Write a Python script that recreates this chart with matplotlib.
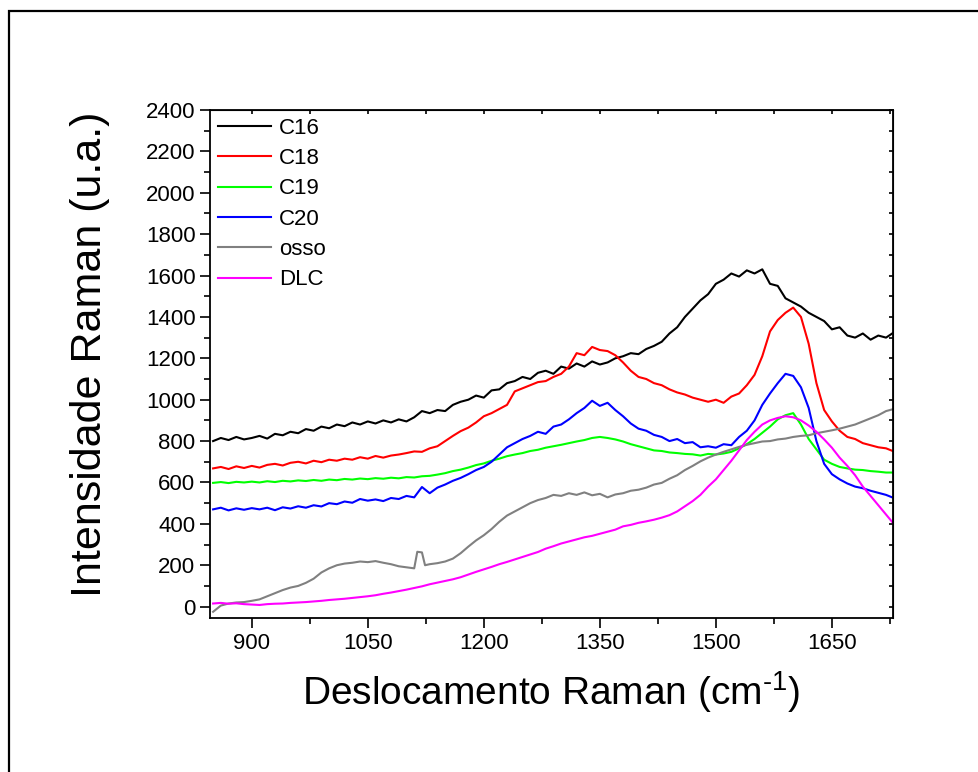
import numpy as np
import matplotlib
matplotlib.use('Agg')
from matplotlib import pyplot as plt
from matplotlib.patches import Rectangle
from matplotlib.ticker import MultipleLocator

plt.rcParams['font.family'] = ['Liberation Sans', 'DejaVu Sans']
plt.rcParams['mathtext.fontset'] = 'custom'
plt.rcParams['mathtext.rm'] = 'Liberation Sans'

# deslocamento Raman (cm-1), grade comum
x = list(range(850, 1731, 10))

c16 = [800, 815, 805, 820, 808, 815, 825, 812, 835, 828,
       845, 838, 858, 850, 870, 862, 880, 872, 890, 880,
       895, 885, 900, 890, 905, 895, 915, 945, 935, 950,
       945, 975, 990, 1000, 1020, 1010, 1045, 1050, 1080, 1090,
       1110, 1100, 1130, 1140, 1125, 1160, 1150, 1175, 1160, 1185,
       1170, 1180, 1200, 1210, 1225, 1220, 1245, 1260, 1280, 1320,
       1350, 1400, 1440, 1480, 1510, 1560, 1580, 1610, 1595, 1625,
       1610, 1630, 1560, 1550, 1490, 1470, 1450, 1420, 1400, 1380,
       1340, 1350, 1310, 1300, 1320, 1290, 1310, 1300, 1325]

c18 = [668, 675, 665, 678, 670, 680, 672, 685, 690, 682,
       695, 700, 692, 705, 698, 710, 705, 715, 710, 722,
       715, 728, 720, 730, 735, 742, 750, 748, 765, 775,
       800, 825, 848, 865, 890, 920, 935, 955, 975, 1040,
       1055, 1070, 1085, 1090, 1110, 1125, 1160, 1225, 1215, 1255,
       1240, 1235, 1215, 1180, 1140, 1110, 1100, 1080, 1070, 1050,
       1035, 1025, 1010, 1000, 990, 1000, 985, 1015, 1030, 1070,
       1120, 1210, 1330, 1385, 1420, 1445, 1400, 1270, 1080, 950,
       895, 850, 820, 810, 790, 780, 770, 765, 750]

c19 = [598, 602, 597, 603, 600, 604, 600, 606, 602, 608,
       605, 610, 607, 612, 608, 614, 611, 617, 614, 619,
       616, 621, 618, 623, 620, 626, 624, 630, 632, 638,
       645, 655, 662, 672, 684, 692, 705, 715, 727, 735,
       742, 752, 758, 768, 775, 782, 790, 798, 805, 815,
       820, 815, 808, 798, 785, 775, 765, 755, 752, 745,
       742, 738, 736, 730, 738, 735, 740, 748, 765, 785,
       810, 840, 870, 905, 925, 935, 880, 810, 760, 710,
       690, 675, 668, 662, 660, 655, 652, 648, 648]

c20 = [470, 478, 465, 475, 468, 476, 470, 478, 466, 480,
       474, 485, 478, 490, 484, 500, 495, 508, 502, 520,
       512, 518, 510, 525, 520, 535, 528, 578, 548, 575,
       590, 608, 622, 640, 660, 675, 700, 735, 770, 790,
       810, 825, 845, 835, 870, 880, 905, 935, 960, 995,
       970, 985, 950, 920, 885, 860, 850, 830, 820, 800,
       810, 790, 795, 770, 775, 768, 785, 780, 820, 850,
       900, 975, 1030, 1080, 1125, 1115, 1060, 960, 800, 690,
       640, 615, 595, 580, 572, 560, 550, 540, 525]

dlc = [15, 18, 14, 16, 12, 10, 8, 12, 14, 15,
       18, 20, 22, 25, 28, 32, 35, 38, 42, 46,
       50, 55, 62, 68, 75, 82, 90, 98, 108, 116,
       124, 132, 142, 155, 168, 180, 192, 205, 216, 228,
       240, 252, 264, 280, 292, 305, 315, 325, 335, 342,
       352, 362, 372, 388, 395, 405, 412, 420, 430, 442,
       460, 485, 510, 540, 580, 615, 660, 705, 755, 805,
       845, 880, 900, 912, 920, 915, 900, 875, 845, 808,
       768, 720, 680, 635, 580, 535, 490, 445, 400]

# osso tem um pico estreito perto de 1117
x_osso = [850, 860, 870, 880, 890, 900, 910, 920, 930, 940,
          950, 960, 970, 980, 990, 1000, 1010, 1020, 1030, 1040,
          1050, 1060, 1070, 1080, 1090, 1100, 1110, 1114, 1120, 1124,
          1130, 1140, 1150, 1160, 1170, 1180, 1190, 1200, 1210, 1220,
          1230, 1240, 1250, 1260, 1270, 1280, 1290, 1300, 1310, 1320,
          1330, 1340, 1350, 1360, 1370, 1380, 1390, 1400, 1410, 1420,
          1430, 1440, 1450, 1460, 1470, 1480, 1490, 1500, 1510, 1520,
          1530, 1540, 1550, 1560, 1570, 1580, 1590, 1600, 1610, 1620,
          1630, 1640, 1650, 1660, 1670, 1680, 1690, 1700, 1710, 1720, 1730]
osso = [-25, 5, 15, 20, 22, 28, 35, 50, 65, 80,
        92, 100, 115, 135, 165, 185, 200, 208, 212, 218,
        215, 220, 212, 205, 195, 190, 185, 265, 262, 200,
        205, 210, 218, 232, 258, 290, 320, 345, 375, 410,
        440, 460, 480, 500, 515, 525, 540, 535, 548, 540,
        552, 538, 545, 528, 542, 548, 560, 565, 575, 590,
        598, 618, 635, 660, 680, 702, 720, 735, 748, 760,
        772, 782, 790, 798, 800, 808, 812, 820, 825, 828,
        838, 845, 852, 860, 870, 880, 895, 910, 925, 945, 955]

fig = plt.figure(figsize=(9.79, 7.72), dpi=100)
ax = fig.add_axes([210/979, 1-618/772, (893-210)/979, (618-110)/772])

ax.plot(x, c16, color='black', lw=1.5, label='C16')
ax.plot(x, c18, color='#FF0000', lw=1.5, label='C18')
ax.plot(x, c19, color='#00FF00', lw=1.5, label='C19')
ax.plot(x, c20, color='#0000FF', lw=1.5, label='C20')
ax.plot(x_osso, osso, color='#808080', lw=1.5, label='osso')
ax.plot(x, dlc, color='#FF00FF', lw=1.5, label='DLC')

ax.set_xlim(846, 1729)
ax.set_ylim(-55, 2400)
ax.xaxis.set_major_locator(MultipleLocator(150))
ax.xaxis.set_minor_locator(MultipleLocator(75))
ax.yaxis.set_major_locator(MultipleLocator(200))
ax.yaxis.set_minor_locator(MultipleLocator(100))
ax.tick_params(which='major', direction='out', length=7, width=1.2, labelsize=16)
ax.tick_params(which='minor', direction='out', length=4, width=1.2)
for s in ax.spines.values():
    s.set_linewidth(1.3)

# eixos de cima e da direita: só marcas internas
top = ax.secondary_xaxis('top')
top.xaxis.set_major_locator(MultipleLocator(150))
top.xaxis.set_minor_locator(MultipleLocator(75))
top.tick_params(which='both', direction='in', length=3, width=1.2, labeltop=False)
right = ax.secondary_yaxis('right')
right.yaxis.set_major_locator(MultipleLocator(200))
right.yaxis.set_minor_locator(MultipleLocator(100))
right.tick_params(which='both', direction='in', length=3, width=1.2, labelright=False)

ax.set_xlabel('Deslocamento Raman (cm$^{\\mathregular{\u2010}\\mathregular{1}}$)', fontsize=28, labelpad=11)
ax.set_ylabel('Intensidade Raman (u.a.)', fontsize=31)
ax.yaxis.set_label_coords(-0.146, 0.52)

ax.legend(loc='upper left', frameon=False, fontsize=16, handlelength=2.4,
          handletextpad=0.36, labelspacing=0.42, borderaxespad=0.2,
          borderpad=0.15)

fig.patches.append(Rectangle((9/979, -0.05), 1.2, 1-11/772+0.05,
                             transform=fig.transFigure, fill=False,
                             edgecolor='black', lw=1.6))

fig.savefig('out.png', dpi=100)
